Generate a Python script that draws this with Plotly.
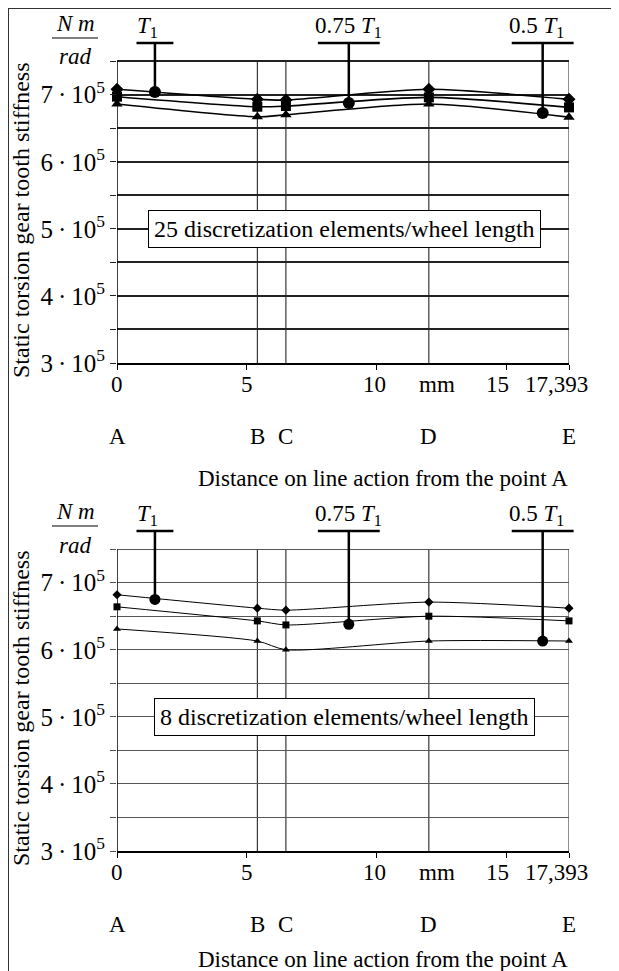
import plotly.graph_objects as go

# page body has an 8px margin: the figure is drawn from (8, 8) of the window
OFF = 8
W, H = 619 - OFF, 971 - OFF
X_MAX = 17.393
FONT = "Liberation Serif"
FS = 23

# ---------------- data ----------------
positions = [0, 5.4, 6.5, 12, 17.393]
point_names = ["A", "B", "C", "D", "E"]
x_tick_vals = [0, 5, 10, 15, 17.393]
x_tick_text = ["0", "5", "10", "15", "17,393"]
x_unit = "mm"
x_unit_pos = 12.3
y_tick_vals = [300000, 350000, 400000, 450000, 500000, 550000, 600000, 650000, 700000, 750000]
y_tick_text = ["3\u2009·\u200910<sup>5</sup>", "", "4\u2009·\u200910<sup>5</sup>", "",
               "5\u2009·\u200910<sup>5</sup>", "", "6\u2009·\u200910<sup>5</sup>", "",
               "7\u2009·\u200910<sup>5</sup>", ""]

# 25 discretization elements / wheel length
k25_T1 = [708000, 693000, 692000, 708000, 693000]
k25_075T1 = [697000, 682000, 683000, 696000, 681000]
k25_05T1 = [686000, 667000, 670000, 686000, 666500]
# 8 discretization elements / wheel length
k8_T1 = [682000, 662000, 659000, 671000, 662000]
k8_075T1 = [664000, 643000, 637000, 650000, 643000]
k8_05T1 = [631000, 613000, 600000, 613000, 613000]

load_labels = ["<i>T</i><sub>1</sub>", "0.75 <i>T</i><sub>1</sub>", "0.5 <i>T</i><sub>1</sub>"]
load_x = [1.46, 8.92, 16.38]
load_y_25 = [704000, 687500, 672500]
load_y_8 = [675000, 638000, 613000]

box_25 = "25 discretization elements/wheel length"
box_8 = "8 discretization elements/wheel length"
y_title = "Static torsion gear tooth stiffness"
x_title = "Distance on line action from the point A"

# ---------------- layout helpers (reference window pixels -> paper) ----------------
def px(xp):
    return (xp - OFF) / W

def py(yp):
    return 1 - (yp - OFF) / H

Y_RANGE = [300000, 780000]
BAR_Y = 777000
bar_half = [0.71, 1.19, 1.19]
label_shift = [-7, 0, -6]
tick_shift = [0, 0, -2, -9, -13]

panels = [
    dict(series=[k25_T1, k25_075T1, k25_05T1], loads=load_y_25, box=box_25,
         ybot=363, off=0, title_gap=115, grid="#222222", gw=1.5, lw=1.6, ms=10, cs=12,
         xa="x", ya="y"),
    dict(series=[k8_T1, k8_075T1, k8_05T1], loads=load_y_8, box=box_8,
         ybot=851, off=488, title_gap=108, grid="#555555", gw=1, lw=1, ms=7, cs=11,
         xa="x2", ya="y2"),
]
symbols = ["diamond", "square", "triangle-up"]

fig = go.Figure()
shapes = []
annotations = []

def txt(size=FS, **kw):
    d = dict(showarrow=False, xanchor="center", yanchor="middle",
             font=dict(family=FONT, size=size, color="black"))
    d.update(kw)
    return d

for i, p in enumerate(panels):
    xa, ya = p["xa"], p["ya"]
    for s, sym in zip(p["series"], symbols):
        fig.add_trace(go.Scatter(
            x=positions, y=s, mode="lines+markers", xaxis=xa, yaxis=ya,
            line=dict(color="black", width=p["lw"], shape="spline", smoothing=0.7),
            marker=dict(symbol=sym, size=p["ms"], color="black"),
            cliponaxis=False, showlegend=False, hoverinfo="skip"))
    fig.add_trace(go.Scatter(
        x=load_x, y=p["loads"], mode="markers", xaxis=xa, yaxis=ya,
        marker=dict(symbol="circle", size=p["cs"], color="black"),
        cliponaxis=False, showlegend=False, hoverinfo="skip"))

    # frame: left axis line, right frame, vertical lines at B, C, D
    shapes.append(dict(type="line", xref=xa, yref=ya, x0=0, x1=0, y0=300000, y1=750000,
                       line=dict(color="black", width=1.5), layer="above"))
    shapes.append(dict(type="line", xref=xa, yref=ya, x0=X_MAX, x1=X_MAX, y0=300000, y1=750000,
                       line=dict(color="#444444", width=1.2), layer="below"))
    for xv in positions[1:4]:
        shapes.append(dict(type="line", xref=xa, yref=ya, x0=xv, x1=xv, y0=300000, y1=750000,
                           line=dict(color="#111111", width=1), layer="below"))

    # load leader lines
    for lx, ly, hw, lab, sh in zip(load_x, p["loads"], bar_half, load_labels, label_shift):
        shapes.append(dict(type="line", xref=xa, yref=ya, x0=lx, x1=lx, y0=ly, y1=BAR_Y,
                           line=dict(color="black", width=2.5), layer="above"))
        shapes.append(dict(type="line", xref=xa + " domain", yref=ya,
                           x0=(lx - hw) / X_MAX, x1=(lx + hw) / X_MAX, y0=BAR_Y, y1=BAR_Y,
                           line=dict(color="black", width=2.5), layer="above"))
        annotations.append(txt(xref=xa, yref="paper", x=lx, y=py(27 + p["off"]), xshift=sh,
                               text=lab))

    # unit fraction
    annotations.append(txt(xref="paper", yref="paper", x=px(75), y=py(24 + p["off"]),
                           text="<i>N m</i>"))
    annotations.append(txt(xref="paper", yref="paper", x=px(75), y=py(57 + p["off"]),
                           text="<i>rad</i>"))
    shapes.append(dict(type="line", xref="paper", yref="paper", x0=px(52), x1=px(98),
                       y0=py(38 + p["off"]), y1=py(38 + p["off"]),
                       line=dict(color="black", width=1.2)))

    # box label
    annotations.append(txt(size=24, xref=xa, yref=ya, x=8.75, y=500000, text=p["box"],
                           bgcolor="white", bordercolor="black", borderwidth=1, borderpad=5))

    # x tick labels, unit, point names, titles
    yt = p["ybot"] + 21
    for xv, tt, sh in zip(x_tick_vals, x_tick_text, tick_shift):
        annotations.append(txt(xref=xa, yref="paper", x=xv, y=py(yt), xshift=sh, text=tt))
    annotations.append(txt(xref=xa, yref="paper", x=x_unit_pos, y=py(yt), text=x_unit))
    for xv, nm in zip(positions, point_names):
        annotations.append(txt(xref=xa, yref="paper", x=xv, y=py(p["ybot"] + 73), text=nm))
    annotations.append(txt(xref="paper", yref="paper", x=px(383),
                           y=py(p["ybot"] + p["title_gap"]), text=x_title))
    annotations.append(txt(size=24, xref="paper", yref="paper", x=px(21), y=py(p["ybot"] - 143),
                           text=y_title, textangle=-90))

# outer border (top and left)
shapes.append(dict(type="line", xref="paper", yref="paper", x0=0, x1=1, y0=1, y1=1,
                   line=dict(color="#333333", width=2)))
shapes.append(dict(type="line", xref="paper", yref="paper", x0=0, x1=0, y0=1, y1=0,
                   line=dict(color="#333333", width=2)))

def xaxis_cfg(anchor):
    return dict(domain=[px(117), px(569)], range=[0, X_MAX], anchor=anchor,
                tickmode="array", tickvals=x_tick_vals, ticktext=[""] * len(x_tick_vals),
                ticks="outside", ticklen=5, tickcolor="black", showgrid=False, zeroline=False,
                showline=True, linecolor="black", linewidth=1.5,
                tickfont=dict(family=FONT, size=FS, color="black"), automargin=False)

def yaxis_cfg(anchor, dom, grid, gw):
    return dict(domain=dom, range=Y_RANGE, anchor=anchor,
                tickmode="array", tickvals=y_tick_vals, ticktext=y_tick_text,
                ticks="outside", ticklen=6, tickcolor=grid, showgrid=True, gridcolor=grid,
                gridwidth=gw, zeroline=False, showline=False,
                tickfont=dict(family=FONT, size=25, color="black"), automargin=False)

fig.update_layout(
    width=W, height=H, autosize=False,
    margin=dict(l=0, r=0, t=0, b=0),
    font=dict(family=FONT, size=FS, color="black"),
    paper_bgcolor="white", plot_bgcolor="white", showlegend=False,
    xaxis=xaxis_cfg("y"),
    yaxis=yaxis_cfg("x", [py(363), py(41)], "#222222", 1.5),
    xaxis2=xaxis_cfg("y2"),
    yaxis2=yaxis_cfg("x2", [py(851), py(529)], "#555555", 1),
    shapes=shapes, annotations=annotations,
)

fig.write_html("out.html")
